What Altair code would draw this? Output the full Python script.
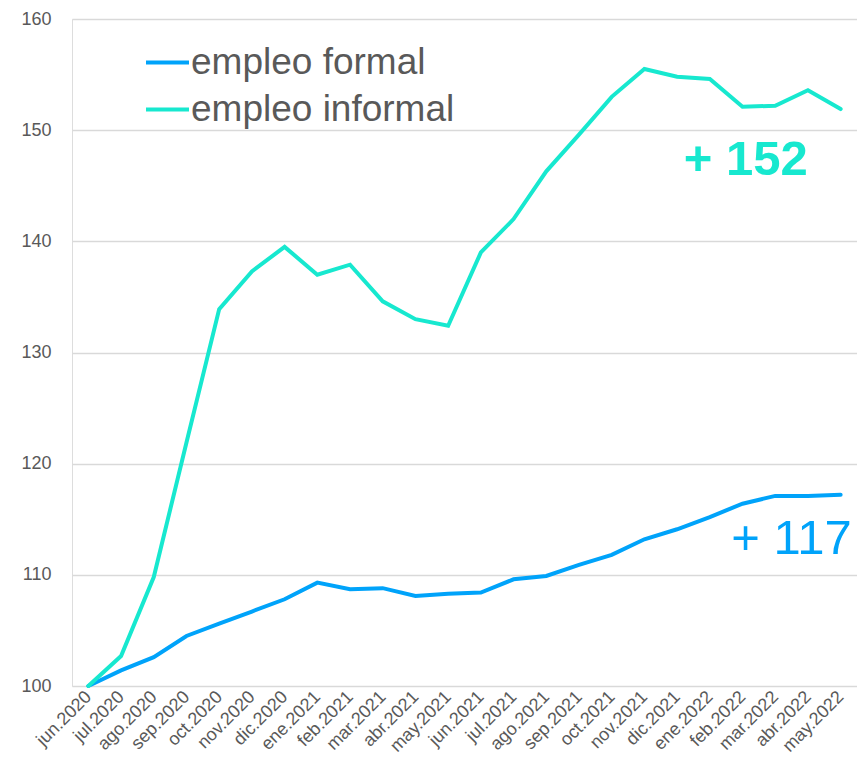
import altair as alt
import pandas as pd

months = ["jun.2020", "jul.2020", "ago.2020", "sep.2020", "oct.2020", "nov.2020",
          "dic.2020", "ene.2021", "feb.2021", "mar.2021", "abr.2021", "may.2021",
          "jun.2021", "jul.2021", "ago.2021", "sep.2021", "oct.2021", "nov.2021",
          "dic.2021", "ene.2022", "feb.2022", "mar.2022", "abr.2022", "may.2022"]

formal = [100.0, 101.4, 102.6, 104.5, 105.6, 106.7, 107.8, 109.3, 108.7, 108.8,
          108.1, 108.3, 108.4, 109.6, 109.9, 110.9, 111.8, 113.2, 114.1, 115.2,
          116.4, 117.1, 117.1, 117.2]

informal = [100.0, 102.7, 109.8, 121.9, 133.9, 137.3, 139.5, 137.0, 137.9, 134.6,
            133.0, 132.4, 139.0, 142.0, 146.3, 149.6, 153.0, 155.5, 154.8, 154.6,
            152.1, 152.2, 153.6, 151.9]

series_names = ["empleo formal", "empleo informal"]
series_colors = ["#00A3FA", "#17E8CF"]

rows = []
for m, v in zip(months, formal):
    rows.append({"mes": m, "serie": series_names[0], "valor": v})
for m, v in zip(months, informal):
    rows.append({"mes": m, "serie": series_names[1], "valor": v})
df = pd.DataFrame(rows)

last_formal = pd.DataFrame([{"mes": months[-1], "valor": formal[-1],
                             "txt": "+ " + str(round(formal[-1]))}])
last_informal = pd.DataFrame([{"mes": months[-1], "valor": informal[-1],
                               "txt": "+ " + str(round(informal[-1]))}])

FONT = "Liberation Sans"
GREY = "#595959"

x_enc = alt.X("mes:N", sort=months, title=None,
              scale=alt.Scale(paddingOuter=0.5, paddingInner=0),
              axis=alt.Axis(labelAngle=-45, labelAlign="right", labelBaseline="middle",
                            labelFontSize=18, labelColor=GREY, labelFont=FONT,
                            labelPadding=8, ticks=False, domain=False, grid=False,
                            labelOverlap=False))
y_enc = alt.Y("valor:Q", title=None,
              scale=alt.Scale(domain=[100, 160], nice=False, zero=False),
              axis=alt.Axis(values=[100, 110, 120, 130, 140, 150, 160],
                            labelFontSize=18, labelColor=GREY, labelFont=FONT,
                            labelPadding=21, ticks=False, domain=False,
                            grid=True, gridColor="#D9D9D9", gridWidth=1.5))

lines = alt.Chart(df).mark_line(strokeWidth=4, strokeCap="round").encode(
    x=x_enc,
    y=y_enc,
    color=alt.Color("serie:N", scale=alt.Scale(domain=series_names, range=series_colors),
                    legend=alt.Legend(title=None, orient="none", legendX=72, legendY=20,
                                      symbolType="stroke", symbolSize=1849,
                                      symbolStrokeWidth=4, labelFontSize=37,
                                      labelFont=FONT, labelColor=GREY, labelOffset=0,
                                      rowPadding=5, labelLimit=400)),
)

lab_inf = alt.Chart(last_informal).mark_text(
    align="right", baseline="middle", dx=-33, dy=51, fontSize=49,
    fontWeight="bold", font=FONT, color=series_colors[1]
).encode(x=alt.X("mes:N", sort=months), y="valor:Q", text="txt:N")

lab_for = alt.Chart(last_formal).mark_text(
    align="right", baseline="middle", dx=11, dy=44, fontSize=49,
    font=FONT, color=series_colors[0]
).encode(x=alt.X("mes:N", sort=months), y="valor:Q", text="txt:N")

chart = alt.layer(lines, lab_inf, lab_for).properties(
    width=785, height=667,
    autosize=alt.AutoSizeParams(type="none"),
    padding={"left": 64, "top": 11, "right": 0, "bottom": 80},
).configure_view(stroke=None).configure(background="white")

chart.save("out.html", embed_options={"renderer": "svg", "actions": False})
